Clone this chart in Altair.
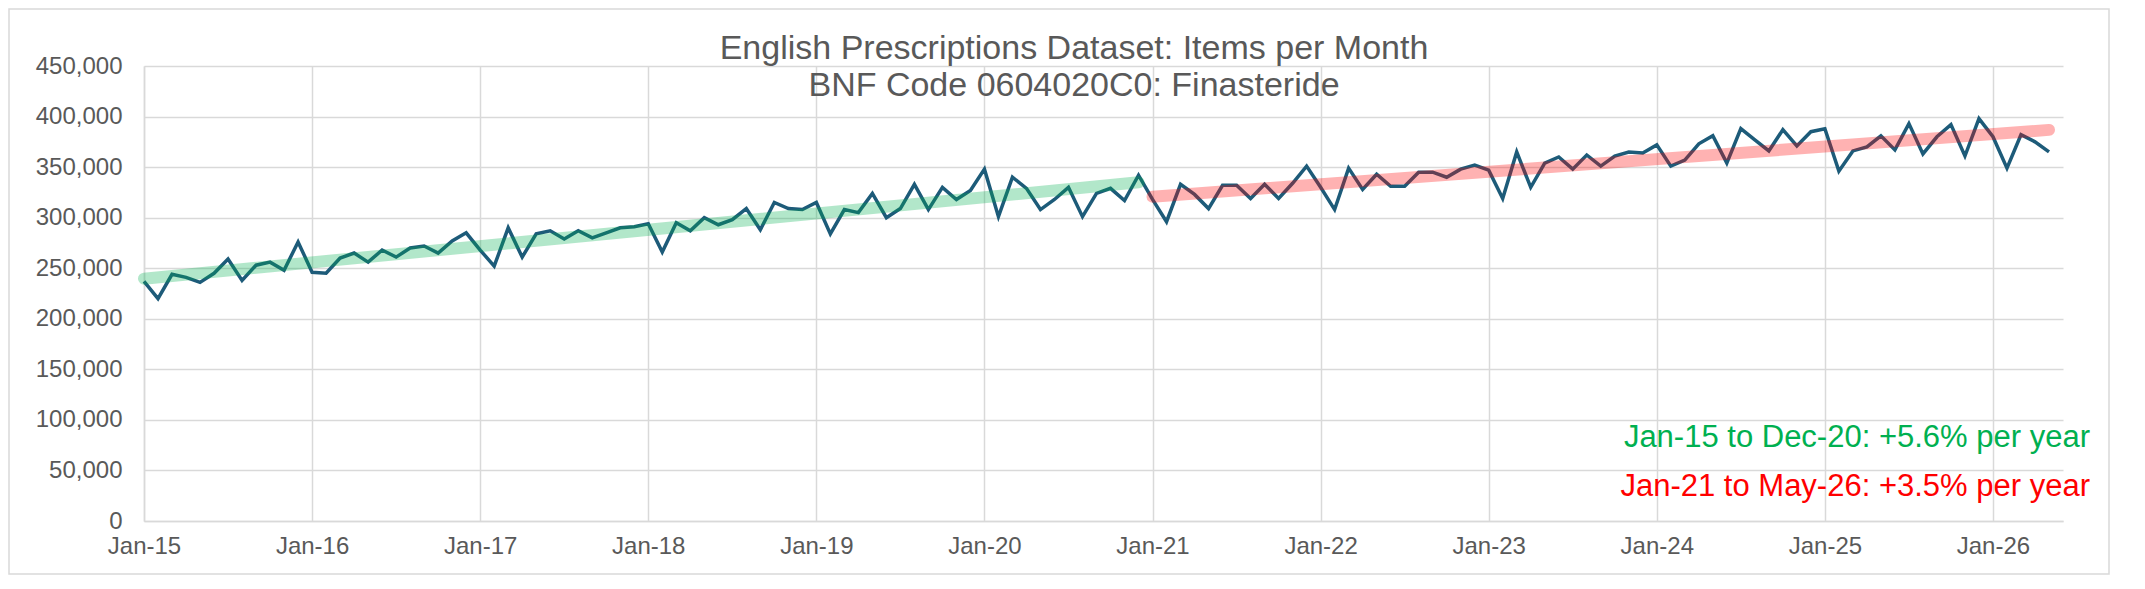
import altair as alt
import pandas as pd

# Monthly items (thousands), Jan-15 .. May-26
items_2015 = [237, 220, 244, 241, 236, 245, 259, 238, 253, 256, 248, 276]
items_2016 = [246, 245, 260, 265, 256, 268, 261, 270, 272, 265, 277, 285]
items_2017 = [268, 252, 290, 261, 284, 287, 279, 287, 280, 285, 290, 291]
items_2018 = [294, 266, 295, 287, 300, 293, 298, 309, 288, 315, 309, 308]
items_2019 = [315, 284, 308, 305, 324, 300, 309, 333, 308, 330, 318, 327]
items_2020 = [348, 301, 340, 329, 308, 318, 330, 301, 324, 329, 317, 342]
items_2021 = [318, 296, 333, 323, 309, 332, 332, 319, 333, 319, 334, 351]
items_2022 = [330, 308, 349, 328, 343, 331, 331, 345, 345, 340, 348, 352]
items_2023 = [347, 319, 365, 330, 354, 360, 348, 362, 351, 361, 365, 364]
items_2024 = [372, 351, 357, 373, 381, 354, 388, 377, 366, 387, 371, 385]
items_2025 = [388, 346, 366, 370, 381, 367, 393, 363, 380, 392, 361, 398]
items_2026 = [380, 349, 382, 375, 365]

years = [15, 16, 17, 18, 19, 20, 21, 22, 23, 24, 25, 26]
month_names = ["Jan", "Feb", "Mar", "Apr", "May", "Jun",
               "Jul", "Aug", "Sep", "Oct", "Nov", "Dec"]

title_line1 = "English Prescriptions Dataset: Items per Month"
title_line2 = "BNF Code 0604020C0: Finasteride"
note_green = "Jan-15 to Dec-20: +5.6% per year"
note_red = "Jan-21 to May-26: +3.5% per year"

series = [items_2015, items_2016, items_2017, items_2018, items_2019, items_2020,
          items_2021, items_2022, items_2023, items_2024, items_2025, items_2026]
rows = []
t = 0
for yr, vals in zip(years, series):
    for m, v in enumerate(vals):
        rows.append({"t": t, "month": f"{month_names[m]}-{yr}", "v": v * 1000})
        t += 1
df = pd.DataFrame(rows)

W, H = 1919, 455
FONT = "Liberation Sans"
GREY = "#595959"

axis_style = dict(title=None, grid=True, ticks=False,
                  labelFont=FONT, labelFontSize=24, labelColor=GREY,
                  gridColor="#d9d9d9", gridWidth=1.5,
                  domainColor="#d9d9d9", domainWidth=1.5)

x_enc = alt.X("t:Q", scale=alt.Scale(domain=[0, 137], nice=False, zero=False),
              axis=alt.Axis(values=list(range(0, 137, 12)),
                            labelExpr="'Jan-' + (15 + datum.value / 12)",
                            labelFlush=False, labelPadding=13, **axis_style))
y_enc = alt.Y("v:Q", scale=alt.Scale(domain=[0, 450000], nice=False),
              axis=alt.Axis(values=list(range(0, 450001, 50000)), format=",.0f",
                            labelPadding=22, **axis_style))

base = alt.Chart(df)

main = base.mark_line(color="#1d5b79", strokeWidth=3.5, strokeJoin="miter").encode(
    x=x_enc, y=y_enc)

green = base.transform_filter("datum.t <= 71").transform_regression(
    "t", "v", method="linear", extent=[0, 71]
).mark_line(color="#00B050", opacity=0.3, strokeWidth=12, strokeCap="round").encode(
    x="t:Q", y="v:Q")

red = base.transform_filter("datum.t >= 72").transform_regression(
    "t", "v", method="linear", extent=[72, 136]
).mark_line(color="#FF0000", opacity=0.3, strokeWidth=12, strokeCap="round").encode(
    x="t:Q", y="v:Q")


def label(text, color, size, x, y, align):
    return alt.Chart(alt.Data(values=[{"label": text}])).mark_text(
        align=align, baseline="middle", font=FONT, fontSize=size, color=color
    ).encode(text="label:N", x=alt.value(x), y=alt.value(y))


t1 = label(title_line1, GREY, 34, 930, -17, "center")
t2 = label(title_line2, GREY, 34, 930, 20, "center")
txt_green = label(note_green, "#00B050", 31, 1946, 372, "right")
txt_red = label(note_red, "#FF0000", 31, 1946, 421, "right")

border = alt.Chart(alt.Data(values=[{"a": 1}])).mark_rect(
    fill="transparent", stroke="#d9d9d9", strokeWidth=1.5
).encode(x=alt.value(-135), x2=alt.value(1965), y=alt.value(-57), y2=alt.value(H + 53))

chart = alt.layer(main, green, red, t1, t2, txt_green, txt_red, border).properties(
    width=W, height=H,
    autosize=alt.AutoSizeParams(type="none"),
    padding={"left": 136, "top": 58, "right": 48, "bottom": 56},
).configure_view(stroke=None)

chart.save("out.html", embed_options={"renderer": "svg", "actions": False})
